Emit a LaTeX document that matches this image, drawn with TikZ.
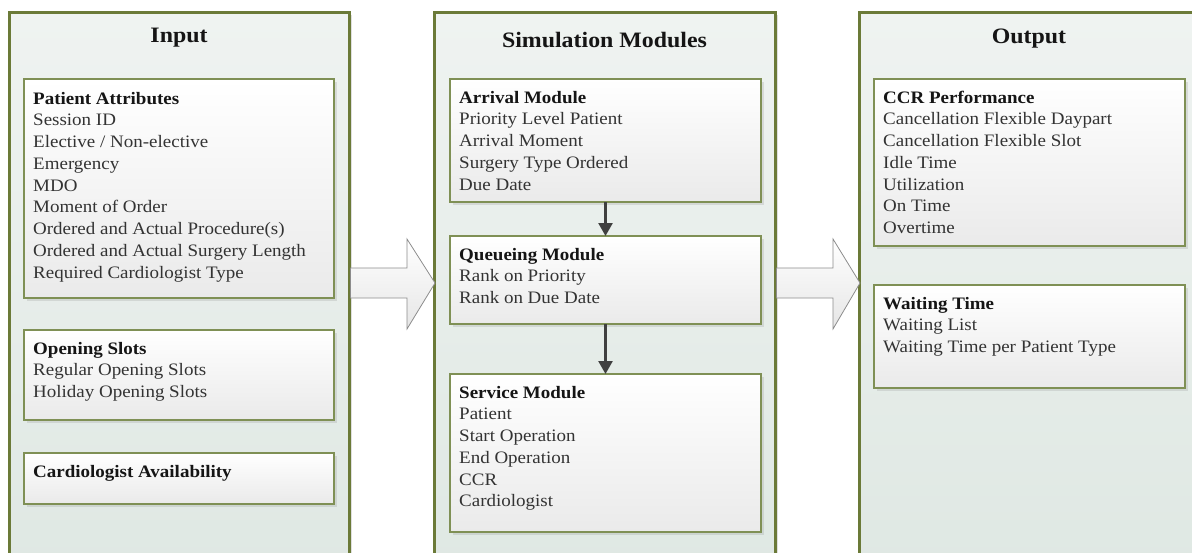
\documentclass[tikz,border=0pt]{standalone}
\usepackage{fontspec}
\setmainfont[FakeStretch=1.085]{Liberation Serif}
\usetikzlibrary{arrows.meta,shadows,calc}
\definecolor{colborder}{HTML}{6B7A38}
\definecolor{boxborder}{HTML}{7F9055}
\definecolor{coltop}{HTML}{EFF3F1}
\definecolor{colbot}{HTML}{DFE8E3}
\definecolor{boxbot}{HTML}{EAEAEA}
\definecolor{bodytext}{HTML}{333333}
\definecolor{headtext}{HTML}{151515}
\definecolor{arrowgray}{HTML}{8C8C8C}
\definecolor{arrowbot}{HTML}{E6E6E6}
\definecolor{smallarrow}{HTML}{404040}
\tikzset{
  colbox/.style={draw=colborder, line width=3pt, top color=coltop, bottom color=colbot,
    anchor=north west, inner sep=0pt, outer sep=0pt,
    drop shadow={opacity=0.25, shadow xshift=3pt, shadow yshift=-3pt}},
  itembox/.style={draw=boxborder, line width=1.2pt, top color=white, bottom color=boxbot,
    anchor=north west, inner sep=0pt, outer sep=0pt,
    drop shadow={opacity=0.2, shadow xshift=3pt, shadow yshift=-3pt}},
  itemtext/.style={anchor=base west, inner sep=0pt, text=bodytext,
    font=\fontsize{17.5}{21.75}\selectfont},
  coltitle/.style={anchor=base, inner sep=0pt, text=headtext,
    font=\fontsize{22}{26}\selectfont\bfseries},
  bigarrow/.style={draw=arrowgray, line width=0.8pt, top color=white, bottom color=arrowbot},
  smallarr/.style={draw=smallarrow, line width=2.5pt, -{Triangle[width=14pt,length=13pt]}}
}
\newcommand{\hd}[1]{\leavevmode{\bfseries\color{headtext}#1}}
\begin{document}
\begin{tikzpicture}[x=1pt,y=-1pt]
\useasboundingbox (0,0) rectangle (1192,552);
\clip (0,0) rectangle (1192,552);
% columns
\node[colbox, minimum width=340pt, minimum height=560pt] (inp) at (9,12) {};
\node[colbox, minimum width=341pt, minimum height=560pt] (sim) at (434,12) {};
\node[colbox, minimum width=345pt, minimum height=560pt] (out) at (859,12) {};
% titles
\node[coltitle] (tinp) at (179,42) {Input};
\node[coltitle] (tsim) at (604.5,47) {Simulation Modules};
\node[coltitle] (tout) at (1029,43) {Output};
% input boxes
\node[itembox, minimum width=310pt, minimum height=219pt] (pa) at (24,79) {};
\node[itemtext] (pat) at ($(pa.north west)+(9,25)$) {\parbox[t]{300pt}{\hd{Patient Attributes}\\Session ID\\Elective / Non-elective\\Emergency\\MDO\\Moment of Order\\Ordered and Actual Procedure(s)\\Ordered and Actual Surgery Length\\Required Cardiologist Type}};
\node[itembox, minimum width=310pt, minimum height=90pt] (os) at (24,330) {};
\node[itemtext] (ost) at ($(os.north west)+(9,24)$) {\parbox[t]{300pt}{\hd{Opening Slots}\\Regular Opening Slots\\Holiday Opening Slots}};
\node[itembox, minimum width=310pt, minimum height=51pt] (ca) at (24,453) {};
\node[itemtext] (cat) at ($(ca.north west)+(9,24)$) {\parbox[t]{300pt}{\hd{Cardiologist Availability}}};
% simulation boxes
\node[itembox, minimum width=311pt, minimum height=123pt] (am) at (450,79) {};
\node[itemtext] (amt) at ($(am.north west)+(9,24)$) {\parbox[t]{300pt}{\hd{Arrival Module}\\Priority Level Patient\\Arrival Moment\\Surgery Type Ordered\\Due Date}};
\node[itembox, minimum width=311pt, minimum height=88pt] (qm) at (450,236) {};
\node[itemtext] (qmt) at ($(qm.north west)+(9,24)$) {\parbox[t]{300pt}{\hd{Queueing Module}\\Rank on Priority\\Rank on Due Date}};
\node[itembox, minimum width=311pt, minimum height=158pt] (sm) at (450,374) {};
\node[itemtext] (smt) at ($(sm.north west)+(9,24)$) {\parbox[t]{300pt}{\hd{Service Module}\\Patient\\Start Operation\\End Operation\\CCR\\Cardiologist}};
% output boxes
\node[itembox, minimum width=311pt, minimum height=167pt] (cp) at (874,79) {};
\node[itemtext] (cpt) at ($(cp.north west)+(9,24)$) {\parbox[t]{300pt}{\hd{CCR Performance}\\Cancellation Flexible Daypart\\Cancellation Flexible Slot\\Idle Time\\Utilization\\On Time\\Overtime}};
\node[itembox, minimum width=311pt, minimum height=103pt] (wt) at (874,285) {};
\node[itemtext] (wtt) at ($(wt.north west)+(9,24)$) {\parbox[t]{300pt}{\hd{Waiting Time}\\Waiting List\\Waiting Time per Patient Type}};
% small arrows
\draw[smallarr] (am.south) -- (qm.north);
\draw[smallarr] (qm.south) -- (sm.north);
% big arrows
\coordinate (a1s) at (inp.east |- 0,283);
\coordinate (a1e) at (sim.west |- 0,283);
\draw[bigarrow] ($(a1s)+(1.5,-15)$) -- ($(a1e)+(-27,-15)$) -- ($(a1e)+(-27,-44)$) -- ($(a1e)+(1,0)$)
  -- ($(a1e)+(-27,46)$) -- ($(a1e)+(-27,15)$) -- ($(a1s)+(1.5,15)$) -- cycle;
\coordinate (a2s) at (sim.east |- 0,283);
\coordinate (a2e) at (out.west |- 0,283);
\draw[bigarrow] ($(a2s)+(1.5,-15)$) -- ($(a2e)+(-26,-15)$) -- ($(a2e)+(-26,-44)$) -- ($(a2e)+(1,0)$)
  -- ($(a2e)+(-26,46)$) -- ($(a2e)+(-26,15)$) -- ($(a2s)+(1.5,15)$) -- cycle;
\end{tikzpicture}
\end{document}
